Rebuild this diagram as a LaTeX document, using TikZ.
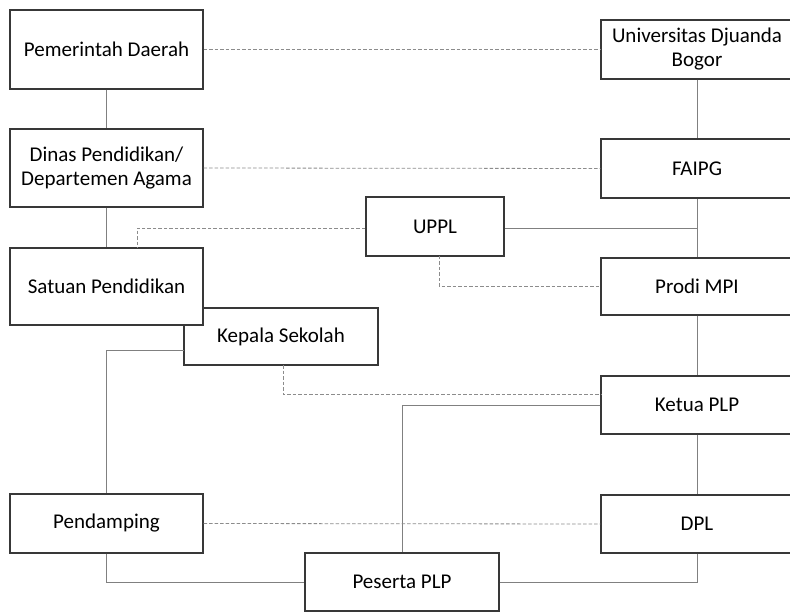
\documentclass[tikz,border=0pt]{standalone}
\usepackage{fontspec}
\setmainfont{Carlito}
\begin{document}
\begin{tikzpicture}[x=1pt,y=-1pt,
  box/.style={draw=black!78,line width=1.1pt,fill=white,inner sep=0pt,align=center,
    font=\fontsize{21}{24}\selectfont},
  wide/.style={box,minimum width=193pt},
  link/.style={draw=black!50,line width=0.9pt},
  dlink/.style={draw=black!45,line width=0.8pt,dash pattern=on 3.5pt off 2pt}]
\clip (0,0) rectangle (790,612);
\fill[white] (0,0) rectangle (790,612);
% left column
\node[wide,minimum height=79pt] (pem) at (106.5,49.5) {Pemerintah Daerah};
\node[wide,minimum height=78pt] (dinas) at (106.5,168) {Dinas Pendidikan/\\Departemen Agama};
\node[box,minimum width=194pt,minimum height=57pt] (kepala) at (281,336.5) {Kepala Sekolah};
\node[wide,minimum height=77pt] (satuan) at (106.5,286.5) {Satuan Pendidikan};
\node[wide,minimum height=59pt] (pend) at (106.5,523.5) {Pendamping};
\node[box,minimum width=194pt,minimum height=58pt] (peserta) at (402,582) {Peserta PLP};
% right column
\node[box,minimum width=192pt,minimum height=59pt] (univ) at (697,49.5) {Universitas Djuanda\\Bogor};
\node[box,minimum width=192pt,minimum height=59pt] (faipg) at (697,168.5) {FAIPG};
\node[box,minimum width=138pt,minimum height=59pt] (uppl) at (435,226.5) {UPPL};
\node[box,minimum width=192pt,minimum height=57pt] (prodi) at (697,286.5) {Prodi MPI};
\node[box,minimum width=192pt,minimum height=58pt] (ketua) at (697,405) {Ketua PLP};
\node[box,minimum width=192pt,minimum height=58pt] (dpl) at (697,524) {DPL};
% helper coordinates
\coordinate (j1) at (697,228);
\coordinate (s1) at (137,248);
\coordinate (u1) at (439,256);
\coordinate (k1) at (184,350);
\coordinate (k2) at (283,365);
\coordinate (t1) at (601,394);
% solid connectors
\draw[link] (pem.south) -- (dinas.north);
\draw[link] (dinas.south) -- (satuan.north);
\draw[link] (univ.south) -- (faipg.north);
\draw[link] (faipg.south) -- (prodi.north);
\draw[link] (uppl.east |- j1) -- (j1);
\draw[link] (prodi.south) -- (ketua.north);
\draw[link] (ketua.south) -- (dpl.north);
\draw[link] (k1) -| (pend.north);
\draw[link] (ketua.west) -| (peserta.north);
\draw[link] (pend.south) |- (peserta.west);
\draw[link] (dpl.south) |- (peserta.east);
% dashed connectors
\draw[dlink] (pem.east) -- (univ.west);
\draw[dlink] (dinas.east) -- (faipg.west);
\draw[dlink] (uppl.west |- j1) -| (s1);
\draw[dlink] (u1) |- (prodi.west);
\draw[dlink] (k2) |- (t1);
\draw[dlink] (pend.east) -- (dpl.west);
\end{tikzpicture}
\end{document}
